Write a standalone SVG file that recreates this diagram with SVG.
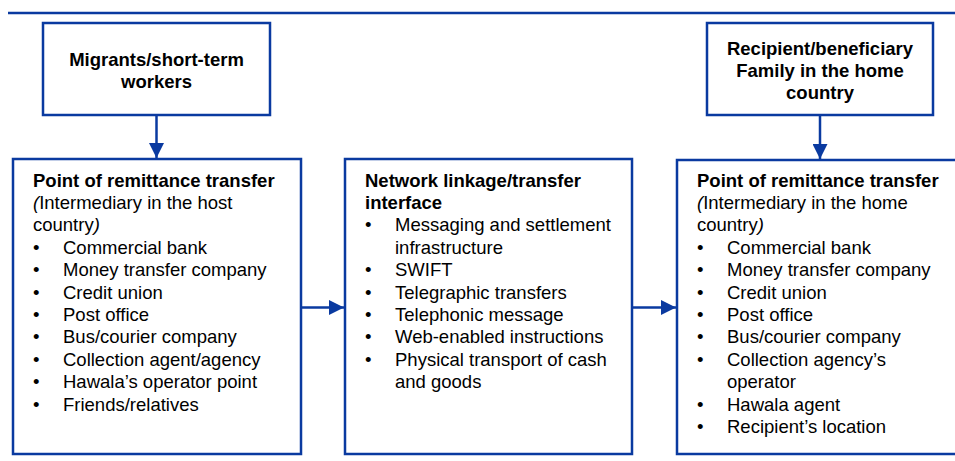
<svg xmlns="http://www.w3.org/2000/svg" width="955" height="461" viewBox="0 0 955 461">
<style>
.box{fill:#fff;stroke:#0a3aa0;stroke-width:2.5}
.ln{stroke:#0a3aa0;stroke-width:2.5;fill:none}
text{font-family:"Liberation Sans",Arial,sans-serif;font-size:18.5px;fill:#000}
.b{font-weight:bold}
.c{text-anchor:middle}
</style>
<defs>
<marker id="ah" markerWidth="15" markerHeight="15" viewBox="0 0 15 15" refX="15" refY="7.5" orient="auto" markerUnits="userSpaceOnUse">
<path d="M0,0 L15,7.5 L0,15 Z" fill="#0a3aa0"/>
</marker>
</defs>
<line class="ln" x1="8" y1="13" x2="955" y2="13"/>
<g id="migrants">
<rect class="box" x="43" y="23" width="227" height="92"/>
<text class="b c" x="156.5" y="65.5">Migrants/short-term</text>
<text class="b c" x="156.5" y="87.5">workers</text>
</g>
<g id="recipient">
<rect class="box" x="707" y="23" width="226" height="92"/>
<text class="b c" x="820" y="54.5">Recipient/beneficiary</text>
<text class="b c" x="820" y="76.8">Family in the home</text>
<text class="b c" x="820" y="99">country</text>
</g>
<g id="host-point">
<rect class="box" x="13" y="159" width="288" height="295"/>
<text class="b" x="33" y="186.5">Point of remittance transfer</text>
<text x="33" y="208.9"><tspan font-style="italic">(</tspan>Intermediary in the host</text>
<text x="33" y="231.3">country<tspan font-style="italic">)</tspan></text>
<g>
<text x="33" y="253.7">•</text><text x="63" y="253.7">Commercial bank</text>
<text x="33" y="276.1">•</text><text x="63" y="276.1">Money transfer company</text>
<text x="33" y="298.5">•</text><text x="63" y="298.5">Credit union</text>
<text x="33" y="320.9">•</text><text x="63" y="320.9">Post office</text>
<text x="33" y="343.3">•</text><text x="63" y="343.3">Bus/courier company</text>
<text x="33" y="365.7">•</text><text x="63" y="365.7">Collection agent/agency</text>
<text x="33" y="388.1">•</text><text x="63" y="388.1">Hawala’s operator point</text>
<text x="33" y="410.5">•</text><text x="63" y="410.5">Friends/relatives</text>
</g>
</g>
<g id="network">
<rect class="box" x="345" y="159" width="287" height="295"/>
<text class="b" x="365" y="186.5">Network linkage/transfer</text>
<text class="b" x="365" y="208.9">interface</text>
<text x="365" y="231.3">•</text><text x="395" y="231.3">Messaging and settlement</text>
<text x="395" y="253.7">infrastructure</text>
<text x="365" y="276.1">•</text><text x="395" y="276.1">SWIFT</text>
<text x="365" y="298.5">•</text><text x="395" y="298.5">Telegraphic transfers</text>
<text x="365" y="320.9">•</text><text x="395" y="320.9">Telephonic message</text>
<text x="365" y="343.3">•</text><text x="395" y="343.3">Web-enabled instructions</text>
<text x="365" y="365.7">•</text><text x="395" y="365.7">Physical transport of cash</text>
<text x="395" y="388.1">and goods</text>
</g>
<g id="home-point">
<rect class="box" x="677" y="160" width="290" height="294"/>
<text class="b" x="697" y="186.5">Point of remittance transfer</text>
<text x="697" y="208.9"><tspan font-style="italic">(</tspan>Intermediary in the home</text>
<text x="697" y="231.3">country<tspan font-style="italic">)</tspan></text>
<text x="697" y="253.7">•</text><text x="727" y="253.7">Commercial bank</text>
<text x="697" y="276.1">•</text><text x="727" y="276.1">Money transfer company</text>
<text x="697" y="298.5">•</text><text x="727" y="298.5">Credit union</text>
<text x="697" y="320.9">•</text><text x="727" y="320.9">Post office</text>
<text x="697" y="343.3">•</text><text x="727" y="343.3">Bus/courier company</text>
<text x="697" y="365.7">•</text><text x="727" y="365.7">Collection agency’s</text>
<text x="727" y="388.1">operator</text>
<text x="697" y="410.5">•</text><text x="727" y="410.5">Hawala agent</text>
<text x="697" y="432.9">•</text><text x="727" y="432.9">Recipient’s location</text>
</g>
<g id="connectors">
<line class="ln" x1="156.5" y1="115" x2="156.5" y2="158" marker-end="url(#ah)"/>
<line class="ln" x1="820" y1="115" x2="820" y2="159" marker-end="url(#ah)"/>
<line class="ln" x1="301" y1="307.5" x2="344" y2="307.5" marker-end="url(#ah)"/>
<line class="ln" x1="632" y1="307.5" x2="676" y2="307.5" marker-end="url(#ah)"/>
</g>
</svg>
